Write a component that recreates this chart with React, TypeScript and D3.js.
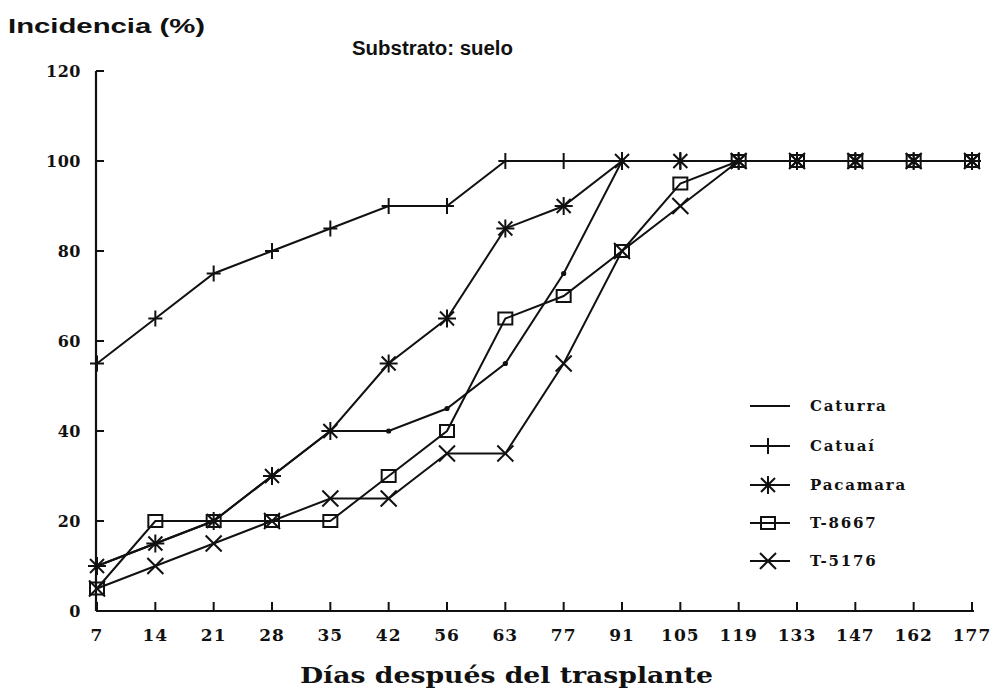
import React, { useEffect } from "react";
import * as d3 from "d3";

const days = ["7", "14", "21", "28", "35", "42", "56", "63", "77", "91", "105", "119", "133", "147", "162", "177"];
const caturra = [10, 15, 20, 30, 40, 40, 45, 55, 75, 100, 100, 100, 100, 100, 100, 100];
const catuai = [55, 65, 75, 80, 85, 90, 90, 100, 100, 100, 100, 100, 100, 100, 100, 100];
const pacamara = [10, 15, 20, 30, 40, 55, 65, 85, 90, 100, 100, 100, 100, 100, 100, 100];
const t8667 = [5, 20, 20, 20, 20, 30, 40, 65, 70, 80, 95, 100, 100, 100, 100, 100];
const t5176 = [5, 10, 15, 20, 25, 25, 35, 35, 55, 80, 90, 100, 100, 100, 100, 100];
const yTicks = [0, 20, 40, 60, 80, 100, 120];

const seriesNames = ["Caturra", "Catuaí", "Pacamara", "T-8667", "T-5176"];
const seriesValues = [caturra, catuai, pacamara, t8667, t5176];
const seriesMarkers = ["dot", "plus", "star", "square", "cross"];

const W = 999, H = 693;
const x = d3.scalePoint<string>().domain(days).range([97, 972]);
const y = d3.scaleLinear().domain([0, 120]).range([611, 71]);

const serif = "'DejaVu Serif', serif";
const sans = "'Liberation Sans', Arial, sans-serif";

function Marker({ type, cx, cy }: { type: string; cx: number; cy: number }) {
  const s = { stroke: "#111", strokeWidth: 2, fill: "none" } as const;
  if (type === "dot") return <circle cx={cx} cy={cy} r={2.6} fill="#111" />;
  if (type === "plus")
    return (
      <g {...s}>
        <line x1={cx - 7} y1={cy} x2={cx + 7} y2={cy} />
        <line x1={cx} y1={cy - 8} x2={cx} y2={cy + 8} />
      </g>
    );
  if (type === "star")
    return (
      <g {...s}>
        <line x1={cx - 9} y1={cy} x2={cx + 9} y2={cy} />
        <line x1={cx} y1={cy - 9} x2={cx} y2={cy + 9} />
        <line x1={cx - 7} y1={cy - 7} x2={cx + 7} y2={cy + 7} />
        <line x1={cx - 7} y1={cy + 7} x2={cx + 7} y2={cy - 7} />
      </g>
    );
  if (type === "square")
    return <rect x={cx - 7} y={cy - 6} width={14} height={12} {...s} />;
  return (
    <g {...s}>
      <line x1={cx - 8} y1={cy - 8} x2={cx + 8} y2={cy + 8} />
      <line x1={cx - 8} y1={cy + 8} x2={cx + 8} y2={cy - 8} />
    </g>
  );
}

export default function App() {
  useEffect(() => {
    document.body.style.margin = "0";
  }, []);
  const line = d3
    .line<number>()
    .x((_, i) => x(days[i]) as number)
    .y((v) => y(v));

  const legendX1 = 750, legendX2 = 790, legendText = 810;
  const legendY = [406, 446, 485, 523, 561];

  return (
    <svg width={W} height={H} style={{ display: "block", background: "#fff" }}>
      <text x={8} y={33} fontFamily={sans} fontWeight="bold" fontSize={21} textLength={197} lengthAdjust="spacingAndGlyphs" fill="#111">
        Incidencia (%)
      </text>
      <text x={352} y={55} fontFamily={sans} fontWeight="bold" fontSize={20} textLength={161} lengthAdjust="spacingAndGlyphs" fill="#111">
        Substrato: suelo
      </text>
      {/* axes */}
      <line x1={96} y1={y(120)} x2={96} y2={y(0)} stroke="#111" strokeWidth={2.2} />
      <line x1={96} y1={y(0)} x2={974} y2={y(0)} stroke="#111" strokeWidth={2.2} />
      {yTicks.map((t) => (
        <g key={t}>
          <line x1={96} y1={y(t)} x2={104} y2={y(t)} stroke="#111" strokeWidth={2} />
          <text x={81} y={y(t)} dy="0.35em" textAnchor="end" fontFamily={serif} fontWeight="bold" fontSize={16} letterSpacing={0.5} fill="#111">
            {t}
          </text>
        </g>
      ))}
      {days.map((d) => (
        <g key={d}>
          <line x1={x(d)} y1={y(0)} x2={x(d)} y2={y(0) - 9} stroke="#111" strokeWidth={2} />
          <text x={x(d)} y={641} textAnchor="middle" fontFamily={serif} fontWeight="bold" fontSize={17} letterSpacing={1} fill="#111">
            {d}
          </text>
        </g>
      ))}
      <text x={300} y={683} fontFamily={serif} fontWeight="bold" fontSize={23} textLength={413} lengthAdjust="spacingAndGlyphs" fill="#111">
        Días después del trasplante
      </text>
      {/* series */}
      {seriesValues.map((vals, si) => (
        <path key={"l" + si} d={line(vals) as string} fill="none" stroke="#111" strokeWidth={2} />
      ))}
      {seriesValues.map((vals, si) =>
        vals.map((v, i) => (
          <Marker key={"m" + si + "-" + i} type={seriesMarkers[si]} cx={x(days[i]) as number} cy={y(v)} />
        ))
      )}
      {/* legend */}
      {seriesNames.map((n, i) => (
        <g key={n}>
          <line x1={legendX1} y1={legendY[i]} x2={legendX2} y2={legendY[i]} stroke="#111" strokeWidth={2} />
          {seriesMarkers[i] !== "dot" && (
            <Marker type={seriesMarkers[i]} cx={(legendX1 + legendX2) / 2 - 2} cy={legendY[i]} />
          )}
          <text x={legendText} y={legendY[i]} dy="0.35em" fontFamily={serif} fontWeight="bold" fontSize={15} letterSpacing={1.8} fill="#111">
            {n}
          </text>
        </g>
      ))}
    </svg>
  );
}
